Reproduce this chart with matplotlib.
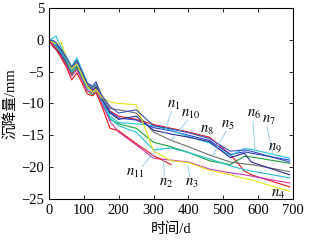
import matplotlib
matplotlib.use("Agg")
import matplotlib.pyplot as plt
import numpy as np

plt.rcParams['mathtext.fontset'] = 'stix'
plt.rcParams['font.family'] = ['Liberation Serif', 'Noto Sans CJK SC']

t = [0, 10, 20, 35, 50, 65, 80, 95, 110, 125, 135, 150, 175, 200, 250, 300, 350, 400, 460, 520, 560, 580, 690]

red_hi   = [0, -0.5, -1.0, -2.2, -3.5, -5.3, -4.5, -6.0, -7.3, -8.0, -7.6, -9.3, -11.2, -12.0, -12.5, -13.3, -13.9, -14.5, -15.3, -18.0, -20.6, -21.2, -23.1]
blue     = [0, -0.3, -0.8, -1.8, -3.0, -4.8, -3.6, -5.4, -7.1, -7.6, -7.0, -9.0, -11.3, -12.3, -12.6, -13.8, -14.3, -15.0, -15.8, -18.0, -17.6, -17.8, -18.9]
cyan_hi  = [0, 0.2, 0.6, -1.2, -2.6, -4.2, -2.8, -4.8, -6.8, -7.5, -7.0, -9.0, -12.0, -13.0, -13.2, -13.5, -14.2, -15.2, -16.2, -18.2, -17.1, -17.2, -18.6]
green    = [0, -0.6, -1.2, -2.4, -3.8, -5.5, -4.3, -6.2, -8.0, -8.6, -7.9, -9.6, -12.5, -13.2, -13.9, -16.1, -16.8, -17.7, -19.0, -19.6, -18.3, -18.4, -19.4]
gray     = [0, -0.2, -0.5, -1.6, -3.0, -4.5, -3.3, -5.2, -7.0, -7.6, -7.1, -8.8, -10.8, -11.0, -11.5, -14.5, -15.8, -16.8, -18.1, -19.2, -19.5, -19.6, -20.7]
navy     = [0, -0.8, -1.5, -2.3, -3.4, -5.0, -4.0, -5.8, -7.3, -7.9, -7.4, -9.2, -11.5, -12.5, -12.0, -14.2, -14.8, -15.3, -16.0, -18.5, -17.8, -19.2, -21.2]
cyan_lo  = [0, -0.2, -0.9, -2.0, -3.2, -5.0, -3.9, -5.8, -7.6, -8.2, -7.7, -9.5, -12.3, -13.5, -14.5, -17.3, -17.0, -17.7, -18.7, -19.8, -20.4, -20.6, -21.7]
magenta  = [0, -0.7, -1.4, -2.6, -4.0, -5.7, -4.7, -6.4, -8.0, -8.3, -7.8, -9.8, -12.8, -14.5, -16.5, -18.6, -18.9, -19.2, -20.3, -20.9, -21.2, -21.4, -22.5]
yellow   = [0, -0.4, -0.6, -0.4, -2.8, -4.6, -3.8, -5.6, -7.3, -8.2, -7.8, -9.0, -9.8, -10.0, -10.2, -17.5, -19.0, -19.3, -20.5, -21.2, -21.8, -22.0, -23.8]
red_lo   = [0, -1.0, -1.5, -2.8, -4.3, -6.3, -5.2, -6.8, -8.5, -8.8, -8.3, -10.2, -13.9, -14.3, -16.3, -18.2, -19.6, np.nan, np.nan, np.nan, np.nan, np.nan, np.nan]
blue2    = [0, -0.1, -0.4, -1.5, -2.8, -4.3, -3.2, -5.0, -6.8, -7.3, -6.6, -8.6, -10.5, -11.5, -11.0, -13.5, -14.0, -14.6, -15.5, -17.5, -17.3, -17.5, -19.2]

series = [
    (red_hi, '#e8141c'), (blue, '#2b3fd0'), (cyan_hi, '#1cc4dc'), (green, '#1a9e3a'),
    (gray, '#6e6e6e'), (navy, '#2a2a8c'), (cyan_lo, '#22c0d0'), (magenta, '#c838b8'),
    (yellow, '#e4e41c'), (red_lo, '#e8141c'), (blue2, '#3a4fb8'),
]

labels = ['$n_1$', '$n_{10}$', '$n_8$', '$n_5$', '$n_6$', '$n_7$', '$n_9$', '$n_{11}$', '$n_2$', '$n_3$', '$n_4$']
label_x = [357, 406, 452, 513, 588, 631, 648, 248, 337, 409, 657]
label_y = [-10.3, -11.7, -14.2, -13.4, -11.7, -12.6, -17.0, -21.0, -22.5, -22.5, -24.3]

lead_x0 = [351, 398, 507, 585, 625, 268, 331, 403]
lead_y0 = [-11.2, -12.6, -14.4, -12.8, -13.6, -19.9, -21.4, -21.4]
lead_x1 = [331, 351, 470, 591, 642, 311, 328, 398]
lead_y1 = [-14.7, -15.8, -18.1, -17.5, -18.0, -17.0, -18.9, -19.7]

fig = plt.figure(figsize=(3.2, 2.49), dpi=100)
ax = fig.add_axes([0.153, 0.201, 0.763, 0.767])

for vals, c in series:
    ax.plot(t, vals, color=c, lw=0.8)

for x0, y0, x1, y1 in zip(lead_x0, lead_y0, lead_x1, lead_y1):
    ax.plot([x0, x1], [y0, y1], color='#8ccbe8', lw=0.6)

for s, x, y in zip(labels, label_x, label_y):
    ax.text(x, y, s, fontsize=10.5, ha='center', va='center')

ax.set_xlim(0, 700)
ax.set_ylim(-25, 5)
ax.set_xticks(range(0, 701, 100))
ax.set_yticks(range(-25, 6, 5))
ax.set_yticklabels(['\u221225', '\u221220', '\u221215', '\u221210', '\u22125', '0', '5'])
ax.tick_params(direction='in', top=True, right=True, labelsize=10.5, length=3, width=0.6)
for sp in ax.spines.values():
    sp.set_linewidth(0.8)
ax.set_xlabel('时间/d', fontsize=10.5, labelpad=4)
ax.set_ylabel('沉降量/mm', fontsize=10.5, labelpad=2)

fig.savefig('out.png', dpi=100)
